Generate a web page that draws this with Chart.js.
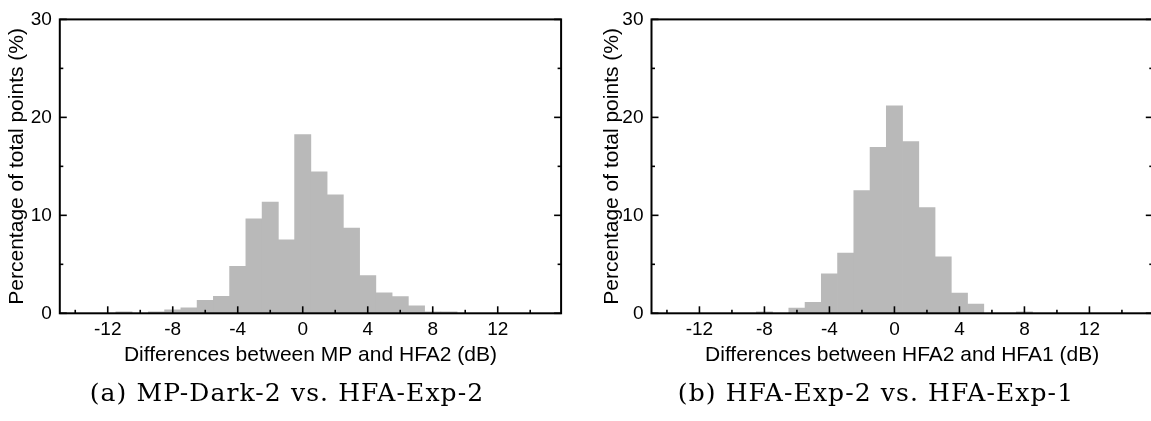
<!DOCTYPE html>
<html>
<head>
<meta charset="utf-8">
<script src="https://cdn.jsdelivr.net/npm/chart.js@4.4.1/dist/chart.umd.min.js"></script>
<style>
  html,body{margin:0;padding:0;background:#fff;overflow:hidden;}
  #wrap{position:relative;width:1151px;height:421px;overflow:hidden;background:#fff;}
  .box{position:absolute;top:0;}
  .cap{position:absolute;white-space:nowrap;font-family:"DejaVu Serif","Liberation Serif",serif;font-size:25px;letter-spacing:1.1px;color:#000;transform:translate(-50%,-50%);}
</style>
</head>
<body>
<div id="wrap">
  <div class="box" style="left:0;width:575px;height:380px;"><canvas id="chartA" width="575" height="380"></canvas></div>
  <div class="box" style="left:590px;width:570px;height:380px;"><canvas id="chartB" width="570" height="380"></canvas></div>
  <div class="cap" id="capA" style="left:287px;top:392px;">(a) MP-Dark-2 vs. HFA-Exp-2</div>
  <div class="cap" id="capB" style="left:876px;top:392px;">(b) HFA-Exp-2 vs. HFA-Exp-1</div>
</div>
<script>
// ---- data (histogram bins of width 1 dB, centred on integers) ----
const binCenters = [-12,-11,-10,-9,-8,-7,-6,-5,-4,-3,-2,-1,0,1,2,3,4,5,6,7,8,9,10,11,12];
const mpVsHfa2   = [0,0.15,0,0.15,0.35,0.55,1.33,1.73,4.8,9.65,11.35,7.5,18.25,14.45,12.1,8.7,3.85,2.08,1.7,0.75,0.15,0.15,0,0,0];
const hfa2VsHfa1 = [0,0,0,0,0.15,0,0.53,1.12,4.04,6.14,12.52,16.93,21.17,17.53,10.78,5.77,2.06,0.95,0,0,0.15,0,0,0,0];
const xMajorTicks = [-12,-8,-4,0,4,8,12];
const xMinorTicks = [-14,-10,-6,-2,2,6,10,14];
const yMajorTicks = [0,10,20,30];
const yMinorTicks = [5,15,25];
const xTitleA = 'Differences between MP and HFA2 (dB)';
const xTitleB = 'Differences between HFA2 and HFA1 (dB)';
const yTitle = 'Percentage of total points (%)';

const SANS = '"Liberation Sans", Arial, Helvetica, sans-serif';

const frameTicks = {
  id: 'frameTicks',
  afterDatasetsDraw(chart) {
    const {ctx, chartArea: a, scales: {x, y}} = chart;
    ctx.save();
    ctx.strokeStyle = '#000';
    ctx.lineCap = 'butt';
    const seg = (x1, y1, x2, y2) => { ctx.beginPath(); ctx.moveTo(x1, y1); ctx.lineTo(x2, y2); ctx.stroke(); };
    ctx.lineWidth = 1.6;
    xMajorTicks.forEach(v => { const p = x.getPixelForValue(v); seg(p, a.bottom, p, a.bottom - 7); });
    xMinorTicks.forEach(v => { const p = x.getPixelForValue(v); seg(p, a.bottom, p, a.bottom - 3.5); });
    yMajorTicks.forEach(v => { const p = y.getPixelForValue(v); seg(a.left, p, a.left + 7, p); seg(a.right, p, a.right - 7, p); });
    yMinorTicks.forEach(v => { const p = y.getPixelForValue(v); seg(a.left, p, a.left + 3.5, p); seg(a.right, p, a.right - 3.5, p); });
    ctx.lineWidth = 2;
    ctx.strokeRect(a.left, a.top, a.right - a.left, a.bottom - a.top);
    ctx.restore();
  }
};

function makeChart(id, values, xTitle, cfg) {
  return new Chart(document.getElementById(id), {
    type: 'bar',
    data: {
      datasets: [{
        data: binCenters.map((c, i) => ({x: c, y: values[i]})),
        backgroundColor: '#b9b9b9',
        borderWidth: 0,
        barPercentage: 1,
        categoryPercentage: 1
      }]
    },
    options: {
      responsive: false,
      animation: false,
      events: [],
      layout: {padding: {top: 14, right: cfg.padRight, bottom: 0, left: 0}},
      plugins: {legend: {display: false}, tooltip: {enabled: false}},
      scales: {
        x: {
          type: 'linear', min: -14.95, max: 15.9, offset: false,
          afterBuildTicks: s => { s.ticks = xMajorTicks.map(v => ({value: v})); },
          grid: {display: false, drawTicks: false},
          border: {display: false},
          ticks: {color: '#000', font: {family: SANS, size: 19}, padding: 5.3, maxRotation: 0, autoSkip: false, callback: v => String(v)},
          title: {display: true, text: xTitle, color: '#000', font: {family: SANS, size: 21}, padding: {top: 0, bottom: 12.4}},
          afterFit: s => { s.height = 66.7; }
        },
        y: {
          min: 0, max: 30,
          afterBuildTicks: s => { s.ticks = yMajorTicks.map(v => ({value: v})); },
          grid: {display: false, drawTicks: false},
          border: {display: false},
          ticks: {color: '#000', font: {family: SANS, size: 19}, padding: 8, callback: v => String(v)},
          title: {display: true, text: yTitle, color: '#000', font: {family: SANS, size: 21}, padding: {top: cfg.yTitlePad, bottom: 0}},
          afterFit: s => { s.width = cfg.yAxisWidth; }
        }
      }
    },
    plugins: [frameTicks]
  });
}

makeChart('chartA', mpVsHfa2, xTitleA, {padRight: 13.9, yAxisWidth: 59.8, yTitlePad: 4.4});
makeChart('chartB', hfa2VsHfa1, xTitleB, {padRight: 7.2, yAxisWidth: 61.5, yTitlePad: 9.4});
</script>
</body>
</html>
